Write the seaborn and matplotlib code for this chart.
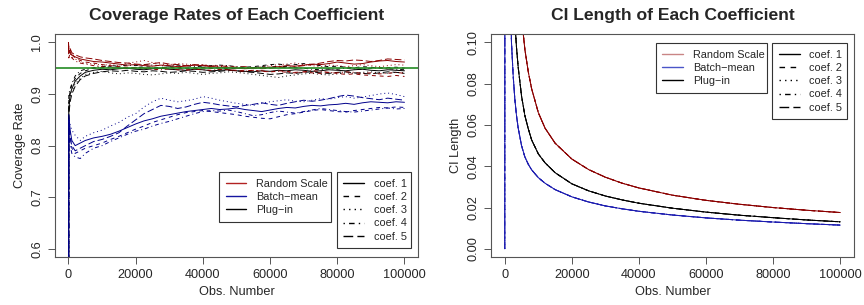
import numpy as np
import matplotlib
matplotlib.use("Agg")
import matplotlib.pyplot as plt
from matplotlib.lines import Line2D
import seaborn as sns

# ---- data ----
# left panel: coverage rate over obs. number
obs_cov = np.concatenate([[1, 100, 500, 1000, 2000, 3500, 5000, 7500],
                          np.arange(10000, 100001, 2500)])

rs_cov = [
    [1.0, 0.98, 0.982, 0.975, 0.972, 0.968, 0.966, 0.963, 0.962, 0.960, 0.958, 0.956, 0.957, 0.955, 0.954,
     0.956, 0.955, 0.953, 0.954, 0.956, 0.955, 0.953, 0.952, 0.951, 0.950, 0.949, 0.950, 0.951, 0.952, 0.953,
     0.955, 0.954, 0.956, 0.958, 0.957, 0.959, 0.962, 0.960, 0.958, 0.959, 0.962, 0.964, 0.965, 0.963, 0.962],
    [1.0, 0.975, 0.985, 0.978, 0.970, 0.965, 0.962, 0.960, 0.957, 0.955, 0.953, 0.952, 0.950, 0.951, 0.949,
     0.950, 0.952, 0.950, 0.948, 0.949, 0.951, 0.950, 0.948, 0.947, 0.946, 0.945, 0.946, 0.944, 0.943, 0.945,
     0.944, 0.942, 0.943, 0.941, 0.940, 0.942, 0.940, 0.938, 0.939, 0.937, 0.936, 0.935, 0.934, 0.936, 0.934],
    [1.0, 0.99, 0.978, 0.972, 0.968, 0.962, 0.960, 0.958, 0.956, 0.957, 0.955, 0.960, 0.962, 0.965, 0.961,
     0.958, 0.957, 0.959, 0.958, 0.956, 0.957, 0.955, 0.953, 0.955, 0.952, 0.950, 0.951, 0.953, 0.955, 0.957,
     0.958, 0.960, 0.957, 0.955, 0.953, 0.956, 0.955, 0.953, 0.955, 0.957, 0.955, 0.953, 0.955, 0.957, 0.956],
    [1.0, 0.97, 0.98, 0.970, 0.964, 0.960, 0.958, 0.955, 0.953, 0.951, 0.950, 0.949, 0.951, 0.950, 0.948,
     0.947, 0.949, 0.947, 0.946, 0.948, 0.947, 0.946, 0.948, 0.947, 0.945, 0.944, 0.946, 0.945, 0.943, 0.944,
     0.942, 0.941, 0.943, 0.945, 0.944, 0.942, 0.941, 0.943, 0.942, 0.940, 0.941, 0.939, 0.940, 0.942, 0.940],
    [1.0, 0.985, 0.988, 0.980, 0.976, 0.972, 0.970, 0.968, 0.965, 0.963, 0.961, 0.960, 0.958, 0.957, 0.959,
     0.961, 0.958, 0.957, 0.955, 0.957, 0.956, 0.954, 0.955, 0.953, 0.952, 0.953, 0.951, 0.949, 0.950, 0.952,
     0.951, 0.953, 0.955, 0.957, 0.960, 0.963, 0.965, 0.964, 0.966, 0.965, 0.963, 0.965, 0.968, 0.967, 0.966],
]

bm_cov = [
    [0.0, 0.86, 0.83, 0.81, 0.80, 0.805, 0.81, 0.815, 0.818, 0.822, 0.828, 0.835, 0.842, 0.848, 0.852,
     0.857, 0.860, 0.863, 0.866, 0.868, 0.870, 0.872, 0.870, 0.871, 0.873, 0.870, 0.868, 0.866, 0.869, 0.872,
     0.874, 0.873, 0.876, 0.878, 0.877, 0.879, 0.880, 0.882, 0.880, 0.883, 0.885, 0.884, 0.883, 0.885, 0.884],
    [0.0, 0.84, 0.82, 0.795, 0.785, 0.79, 0.795, 0.80, 0.805, 0.812, 0.818, 0.825, 0.832, 0.838, 0.845,
     0.850, 0.855, 0.860, 0.864, 0.866, 0.868, 0.866, 0.864, 0.862, 0.860, 0.857, 0.855, 0.853, 0.852, 0.856,
     0.860, 0.862, 0.865, 0.868, 0.870, 0.868, 0.866, 0.865, 0.868, 0.870, 0.872, 0.874, 0.873, 0.875, 0.874],
    [0.0, 0.85, 0.84, 0.83, 0.82, 0.81, 0.818, 0.825, 0.83, 0.838, 0.845, 0.855, 0.862, 0.875, 0.885,
     0.892, 0.888, 0.885, 0.887, 0.890, 0.895, 0.892, 0.888, 0.885, 0.882, 0.880, 0.878, 0.882, 0.885, 0.887,
     0.889, 0.886, 0.885, 0.888, 0.891, 0.890, 0.893, 0.895, 0.892, 0.894, 0.897, 0.900, 0.902, 0.899, 0.895],
    [0.0, 0.82, 0.80, 0.785, 0.778, 0.775, 0.785, 0.795, 0.80, 0.808, 0.815, 0.822, 0.828, 0.832, 0.838,
     0.843, 0.847, 0.852, 0.857, 0.862, 0.866, 0.868, 0.867, 0.869, 0.866, 0.862, 0.858, 0.860, 0.864, 0.867,
     0.865, 0.863, 0.866, 0.869, 0.872, 0.870, 0.868, 0.866, 0.865, 0.867, 0.869, 0.871, 0.873, 0.871, 0.872],
    [0.0, 0.85, 0.815, 0.80, 0.79, 0.795, 0.80, 0.808, 0.812, 0.818, 0.825, 0.838, 0.850, 0.862, 0.870,
     0.878, 0.876, 0.872, 0.875, 0.880, 0.884, 0.882, 0.879, 0.877, 0.875, 0.878, 0.880, 0.883, 0.880, 0.878,
     0.882, 0.885, 0.888, 0.886, 0.888, 0.891, 0.895, 0.898, 0.896, 0.893, 0.891, 0.889, 0.892, 0.890, 0.888],
]

pi_cov = [
    [0.0, 0.87, 0.90, 0.91, 0.925, 0.935, 0.942, 0.946, 0.948, 0.947, 0.949, 0.950, 0.948, 0.947, 0.949,
     0.950, 0.948, 0.947, 0.946, 0.948, 0.947, 0.945, 0.946, 0.947, 0.945, 0.944, 0.943, 0.945, 0.944, 0.946,
     0.945, 0.947, 0.946, 0.944, 0.945, 0.947, 0.946, 0.945, 0.947, 0.948, 0.946, 0.945, 0.947, 0.946, 0.945],
    [0.0, 0.89, 0.905, 0.918, 0.93, 0.94, 0.945, 0.950, 0.951, 0.953, 0.952, 0.950, 0.951, 0.953, 0.952,
     0.951, 0.953, 0.952, 0.950, 0.951, 0.952, 0.950, 0.951, 0.949, 0.950, 0.952, 0.953, 0.955, 0.957, 0.958,
     0.956, 0.957, 0.959, 0.957, 0.955, 0.953, 0.954, 0.952, 0.951, 0.953, 0.952, 0.950, 0.951, 0.952, 0.950],
    [0.0, 0.88, 0.895, 0.905, 0.92, 0.93, 0.938, 0.942, 0.944, 0.941, 0.939, 0.941, 0.940, 0.938, 0.937,
     0.939, 0.941, 0.940, 0.942, 0.940, 0.938, 0.940, 0.941, 0.943, 0.942, 0.940, 0.938, 0.936, 0.934, 0.932,
     0.935, 0.937, 0.939, 0.940, 0.938, 0.937, 0.939, 0.941, 0.940, 0.942, 0.943, 0.941, 0.940, 0.942, 0.941],
    [0.0, 0.9, 0.91, 0.92, 0.935, 0.945, 0.948, 0.951, 0.953, 0.955, 0.954, 0.956, 0.955, 0.957, 0.956,
     0.955, 0.954, 0.956, 0.955, 0.953, 0.954, 0.955, 0.956, 0.955, 0.953, 0.952, 0.951, 0.953, 0.952, 0.954,
     0.953, 0.951, 0.950, 0.948, 0.947, 0.949, 0.948, 0.950, 0.949, 0.948, 0.950, 0.951, 0.949, 0.948, 0.947],
    [0.0, 0.86, 0.885, 0.90, 0.915, 0.928, 0.935, 0.940, 0.943, 0.945, 0.944, 0.946, 0.944, 0.943, 0.945,
     0.944, 0.942, 0.943, 0.945, 0.944, 0.942, 0.943, 0.944, 0.946, 0.945, 0.943, 0.942, 0.940, 0.938, 0.939,
     0.941, 0.940, 0.942, 0.943, 0.941, 0.940, 0.942, 0.943, 0.941, 0.940, 0.939, 0.941, 0.943, 0.942, 0.940],
]

# right panel: CI length (the five coefficients overlap at this scale)
obs_len = [1, 100, 1000, 2000, 2500, 3000, 3500, 4000, 5000, 6000, 7000, 8000, 10000, 12000, 15000,
           20000, 25000, 30000, 35000, 40000, 50000, 60000, 70000, 80000, 90000, 100000]
rs_len = [0.90, 0.80, 0.45, 0.255, 0.205, 0.174, 0.152, 0.135, 0.112, 0.0965, 0.0858, 0.0776, 0.0660, 0.0585,
          0.0512, 0.0435, 0.0384, 0.0347, 0.0318, 0.0295, 0.0260, 0.0235, 0.0216, 0.0200, 0.0187, 0.0176]
bm_len = [0.0, 0.50, 0.17, 0.100, 0.084, 0.0725, 0.0645, 0.0585, 0.0500, 0.0445, 0.0410, 0.0383, 0.0345, 0.0318,
          0.0287, 0.0252, 0.0227, 0.0208, 0.0194, 0.0182, 0.0164, 0.0150, 0.0139, 0.0130, 0.0122, 0.0115]
pi_len = [0.60, 0.55, 0.30, 0.165, 0.13, 0.110, 0.0975, 0.0880, 0.0740, 0.0645, 0.0582, 0.0528, 0.0460, 0.0417,
          0.0369, 0.0315, 0.0281, 0.0256, 0.0237, 0.0221, 0.0197, 0.0178, 0.0163, 0.0151, 0.0140, 0.0131]

methods = ["Random Scale", "Batch\u2212mean", "Plug\u2212in"]
coefs = ["coef. 1", "coef. 2", "coef. 3", "coef. 4", "coef. 5"]

for arr in rs_cov + bm_cov + pi_cov:
    assert len(arr) == len(obs_cov), len(arr)

# ---- style ----
sns.set_style("ticks")
plt.rcParams["font.family"] = ["Liberation Sans", "DejaVu Sans"]
plt.rcParams["axes.edgecolor"] = "#555555"
plt.rcParams["axes.linewidth"] = 0.8

styles = ["-", (0, (4, 4)), (0, (1, 3)), (0, (1, 3, 4, 3)), (0, (7, 3))]
c_rs, c_bm, c_pi = "#8b0000", "#00008b", "black"
lw = 0.7
fs = 9.2

fig = plt.figure(figsize=(8.64, 3.05), dpi=100)
ax1 = fig.add_axes([0.0637, 0.157, 0.420, 0.731])
ax2 = fig.add_axes([0.5687, 0.157, 0.4193, 0.731])

# left: coverage
for vals_set, col in [(pi_cov, c_pi), (bm_cov, c_bm), (rs_cov, c_rs)]:
    for vals, ls in zip(vals_set, styles):
        sns.lineplot(x=obs_cov, y=vals, ax=ax1, color=col, linestyle=ls, lw=lw, legend=False)
ax1.axhline(0.95, color="#228b22", lw=1.2)
ax1.set_xlim(-4000, 104000)
ax1.set_ylim(0.584, 1.016)
ax1.set_yticks([0.6, 0.7, 0.8, 0.9, 1.0])
ax1.set_title("Coverage Rates of Each Coefficient", fontsize=12.6, fontweight="bold", pad=10)
ax1.set_ylabel("Coverage Rate", fontsize=fs)

# right: CI length
for vals, col in [(pi_len, c_pi), (bm_len, "#1c1cb0"), (rs_len, c_rs)]:
    for ls in styles:
        sns.lineplot(x=obs_len, y=vals, ax=ax2, color=col, linestyle=ls, lw=lw, legend=False)
ax2.set_xlim(-4000, 104000)
ax2.set_ylim(-0.004, 0.104)
ax2.set_yticks([0.0, 0.02, 0.04, 0.06, 0.08, 0.10])
ax2.set_yticklabels(["0.00", "0.02", "0.04", "0.06", "0.08", "0.10"])
ax2.set_title("CI Length of Each Coefficient", fontsize=12.6, fontweight="bold", pad=10)
ax2.set_ylabel("CI Length", fontsize=fs)

for ax in (ax1, ax2):
    ax.set_xticks([0, 20000, 40000, 60000, 80000, 100000])
    ax.set_xticklabels(["0", "20000", "40000", "60000", "80000", "100000"])
    ax.set_xlabel("Obs. Number", fontsize=fs, labelpad=4)
    ax.tick_params(labelsize=fs, length=5, width=0.7, color="#555555", direction="out")
    for lab in ax.get_yticklabels():
        lab.set_rotation(90)
        lab.set_va("center")
    for s in ax.spines.values():
        s.set_visible(True)


def add_legends(ax, m_cols, box1, box2):
    h1 = [Line2D([], [], color=c, lw=1) for c in m_cols]
    h2 = [Line2D([], [], color="black", lw=1, linestyle=ls) for ls in styles]
    kw = dict(loc="upper left", mode="expand", borderaxespad=0, fancybox=False, framealpha=1,
              fontsize=7.8, handlelength=1.9, handletextpad=0.9, labelspacing=0.3,
              borderpad=0.6, edgecolor="#333333")
    lg1 = ax.legend(h1, methods, bbox_to_anchor=box1, **kw)
    lg1.get_frame().set_linewidth(0.8)
    ax.add_artist(lg1)
    lg2 = ax.legend(h2, coefs, bbox_to_anchor=box2, **kw)
    lg2.get_frame().set_linewidth(0.8)


add_legends(ax1, ["#b22222", "#1515a0", "black"], (0.452, 0.152, 0.308, 0.229), (0.777, 0.040, 0.204, 0.341))
add_legends(ax2, ["#c98585", "#4a55c8", "black"], (0.454, 0.731, 0.307, 0.229), (0.776, 0.618, 0.205, 0.342))

fig.savefig("out.png", dpi=100)
